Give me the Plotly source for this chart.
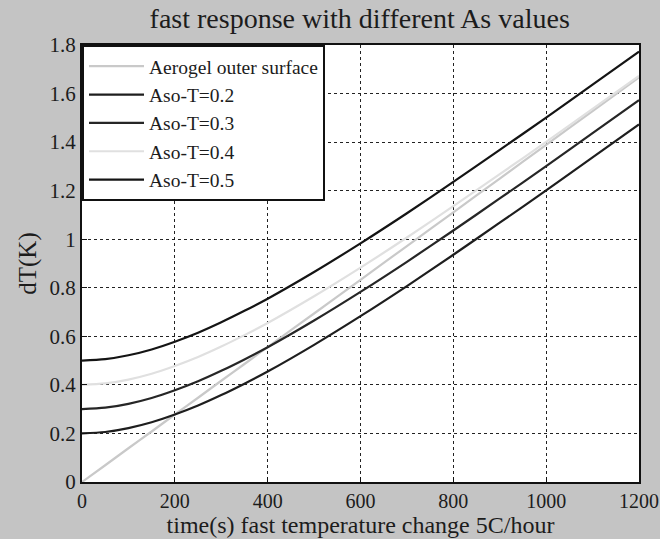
import plotly.graph_objects as go

# time (s)
t = [0, 50, 100, 150, 200, 250, 300, 350, 400, 500, 600, 700, 800, 900, 1000, 1100, 1200]

aerogel = [0.0, 0.069, 0.139, 0.208, 0.278, 0.347, 0.417, 0.486, 0.556, 0.694, 0.833,
           0.972, 1.111, 1.25, 1.389, 1.528, 1.667]
aso_02 = [0.200, 0.206, 0.222, 0.246, 0.278, 0.315, 0.358, 0.405, 0.455, 0.565, 0.683,
          0.807, 0.936, 1.068, 1.201, 1.337, 1.473]
aso_03 = [0.300, 0.306, 0.322, 0.346, 0.378, 0.415, 0.458, 0.505, 0.555, 0.665, 0.783,
          0.907, 1.036, 1.168, 1.301, 1.437, 1.573]
aso_04 = [0.400, 0.406, 0.422, 0.446, 0.478, 0.515, 0.558, 0.605, 0.655, 0.765, 0.883,
          1.007, 1.136, 1.268, 1.401, 1.537, 1.673]
aso_05 = [0.500, 0.506, 0.522, 0.546, 0.578, 0.615, 0.658, 0.705, 0.755, 0.865, 0.983,
          1.107, 1.236, 1.368, 1.501, 1.637, 1.773]

names = ["Aerogel outer surface", "Aso-T=0.2", "Aso-T=0.3", "Aso-T=0.4", "Aso-T=0.5"]
series = [aerogel, aso_02, aso_03, aso_04, aso_05]
colors = ["#c9c9c9", "#1e1e1e", "#262626", "#e0e0e0", "#141414"]

x_ticks = [0, 200, 400, 600, 800, 1000, 1200]
y_ticks = [0, 0.2, 0.4, 0.6, 0.8, 1, 1.2, 1.4, 1.6, 1.8]
y_tick_text = ["0", "0.2", "0.4", "0.6", "0.8", "1", "1.2", "1.4", "1.6", "1.8"]

FONT = "Liberation Serif"
TXT = "#1c1c1c"

fig = go.Figure()
for name, ys, c in zip(names, series, colors):
    fig.add_trace(go.Scatter(x=t, y=ys, mode="lines", name=name,
                             line=dict(color=c, width=2.2, shape="spline", smoothing=0.8)))

fig.update_layout(
    width=660, height=539,
    margin=dict(l=82, r=21, t=45, b=57, autoexpand=False),
    paper_bgcolor="#c4c4c4",
    plot_bgcolor="white",
    title=dict(text="fast response with different As values", x=0.545, xanchor="center",
               y=0.966, yanchor="middle",
               font=dict(family=FONT, size=28, color=TXT)),
    font=dict(family=FONT, color=TXT),
    legend=dict(x=0, y=1, xanchor="left", yanchor="top",
                bgcolor="white", bordercolor="#111", borderwidth=2,
                font=dict(family=FONT, size=19.5, color=TXT),
                tracegroupgap=0, itemwidth=55),
    showlegend=True,
)
fig.update_xaxes(range=[0, 1200], tickvals=x_ticks, ticks="inside", ticklen=5,
                 tickcolor="#111", showgrid=True, gridcolor="#222", griddash="dot",
                 gridwidth=1.2, zeroline=False, showline=True, linecolor="#111",
                 linewidth=2, mirror=True, automargin=False, ticklabeloverflow="allow",
                 tickfont=dict(family=FONT, size=20, color=TXT),
                 title=dict(text="time(s) fast temperature change 5C/hour",
                            font=dict(family=FONT, size=24, color=TXT), standoff=0))
fig.update_yaxes(range=[0, 1.8], tickvals=y_ticks, ticktext=y_tick_text, ticks="inside",
                 ticklen=5, tickcolor="#111", showgrid=True, gridcolor="#222",
                 griddash="dot", gridwidth=1.2, zeroline=False, showline=True,
                 linecolor="#111", linewidth=2, mirror=True, automargin=False,
                 ticklabeloverflow="allow",
                 tickfont=dict(family=FONT, size=21, color=TXT),
                 title=dict(text="dT(K)", font=dict(family=FONT, size=25, color=TXT),
                            standoff=6))

fig.write_html("out.html")
